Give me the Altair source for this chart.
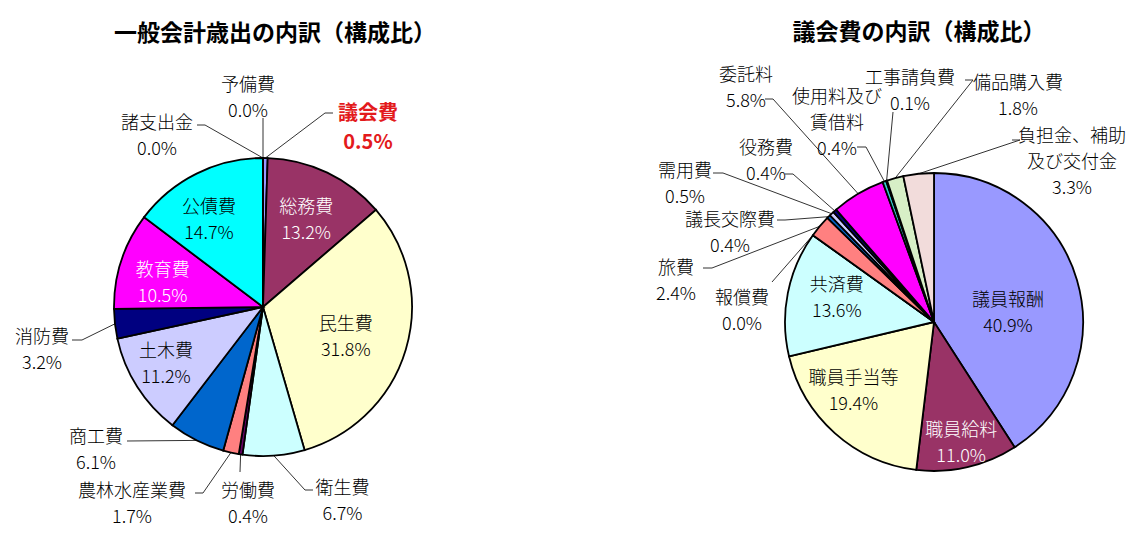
import altair as alt
import pandas as pd

# ---------------- data ----------------
left_title = "一般会計歳出の内訳（構成比）"
left_cats = ["議会費", "総務費", "民生費", "衛生費", "労働費", "農林水産業費", "商工費",
             "土木費", "消防費", "教育費", "公債費", "諸支出金", "予備費"]
left_vals = [0.5, 13.2, 31.8, 6.7, 0.4, 1.7, 6.1, 11.2, 3.2, 10.5, 14.7, 0.0, 0.0]

right_title = "議会費の内訳（構成比）"
right_cats = ["議員報酬", "職員給料", "職員手当等", "共済費", "報償費", "旅費", "議長交際費",
              "需用費", "役務費", "委託料", "使用料及び賃借料", "工事請負費", "備品購入費",
              "負担金、補助及び交付金"]
right_vals = [40.9, 11.0, 19.4, 13.6, 0.0, 2.4, 0.4, 0.5, 0.4, 5.8, 0.4, 0.1, 1.8, 3.3]

# ---------------- styles ----------------
left_colors = ["#9999FF", "#993366", "#FFFFCC", "#CCFFFF", "#660066", "#FF8080", "#0066CC",
               "#CCCCFF", "#000080", "#FF00FF", "#00FFFF", "#800080", "#FFFF00"]
right_colors = ["#9999FF", "#993366", "#FFFFCC", "#CCFFFF", "#660066", "#FF8080", "#0066CC",
                "#CCCCFF", "#000080", "#FF00FF", "#33CCCC", "#99CCFF", "#D7EFC6", "#F2DCDB"]
line_breaks = {"使用料及び賃借料": "使用料及び\n賃借料",
               "負担金、補助及び交付金": "負担金、補助\n及び交付金"}
highlight = {"議会費"}
FONT = "Noto Sans CJK JP"
M = 8  # page margin
LH = 26      # label line height
LH_HL = 29   # highlighted label line height

# ---------------- layout (page px) ----------------
LEFT = dict(cx=263, cy=307, r=149, title=(275, 34))
RIGHT = dict(cx=934, cy=322, r=149, title=(919, 33))

# inside labels: (radius, angle nudge deg, text colour)
left_inside = {"総務費": (100, 0, "white"), "民生費": (87, 1.4, "black"),
               "土木費": (111, 3.4, "black"), "教育費": (104, -3, "white"),
               "公債費": (105, -4.5, "black")}
right_inside = {"議員報酬": (75, 7, "black"), "職員給料": (121, 0, "white"),
                "職員手当等": (104, 9, "black"), "共済費": (101, 4.6, "black")}
# outside labels: (text centre, leader elbow, leader end)
left_outside = {
    "予備費": ((248, 95), (263, 118), (263, 118)),
    "諸支出金": ((157, 133), (205, 125), (197, 125)),
    "議会費": ((368, 124.5), (325, 113), (333, 113)),
    "消防費": ((42, 346.5), (82, 340), (72, 340)),
    "衛生費": ((342.5, 497.5), (305, 490), (313, 490)),
    "労働費": ((248, 500.5), (240, 472), (240, 472)),
    "農林水産業費": ((132, 500.5), (203, 493), (195, 493)),
    "商工費": ((96, 446.5), (127, 441), (127, 441)),
}
right_outside = {
    "報償費": ((742, 308), (772, 282), (772, 282)),
    "旅費": ((676, 277.5), (712, 268), (703, 268)),
    "議長交際費": ((730, 229.5), (785, 220), (777, 220)),
    "需用費": ((685, 180.5), (723, 173), (713, 173)),
    "役務費": ((766, 158), (793, 174), (785, 174)),
    "委託料": ((746, 85), (773, 99), (765, 99)),
    "使用料及び賃借料": ((837, 120), (866, 147), (857, 147)),
    "工事請負費": ((910, 88), (893, 112), (893, 112)),
    "備品購入費": ((1018, 92.5), (973, 80), (965, 80)),
    "負担金、補助及び交付金": ((1072, 158.7), (1020, 140), (1012, 140)),
}


def pie_layers(cats, vals, colors, L, inside, outside):
    rows = []
    for i, (c, v) in enumerate(zip(cats, vals)):
        row = dict(cat=c, v=v, idx=i, name=line_breaks.get(c, c),
                   hl=1 if c in highlight else 0, kind="none",
                   lr=0.0, da=0.0, tc="black", tx=0.0, ty=0.0, bx=0.0, by=0.0, qx=0.0, qy=0.0)
        if c in inside:
            r, da, tc = inside[c]
            row.update(kind="in", lr=r, da=da, tc=tc)
        elif c in outside:
            (tx, ty), (bx, by), (qx, qy) = outside[c]
            row.update(kind="out", tx=tx - M, ty=ty - M, bx=bx - M, by=by - M,
                       qx=qx - M, qy=qy - M)
        rows.append(row)
    df = pd.DataFrame(rows)
    cx, cy, R = L["cx"] - M, L["cy"] - M, L["r"]
    base = alt.Chart(df)

    arcs = base.mark_arc(radius=R, stroke="black", strokeWidth=1.8).encode(
        theta=alt.Theta("v:Q", stack=True, scale=alt.Scale(nice=False)),
        order=alt.Order("idx:Q", sort="ascending"),
        color=alt.Color("cat:N", scale=alt.Scale(domain=cats, range=colors), legend=None),
        x=alt.value(cx), y=alt.value(cy),
    )

    geo = base.transform_joinaggregate(total="sum(v)").transform_window(
        cum="sum(v)", sort=[alt.SortField("idx", order="ascending")], frame=[None, 0]
    ).transform_calculate(
        ang="(datum.cum - datum.v/2) / datum.total * 2 * PI",
        label="datum.name + '\\n' + format(datum.v, '.1f') + '%'",
    ).transform_calculate(
        nl="length(split(datum.label, '\\n'))",
        ex=f"{cx} + {R} * sin(datum.ang)",
        ey=f"{cy} - {R} * cos(datum.ang)",
        lx=f"{cx} + datum.lr * sin(datum.ang + datum.da * PI / 180)",
        ly0=f"{cy} - datum.lr * cos(datum.ang + datum.da * PI / 180)",
    ).transform_calculate(
        lh=f"datum.hl == 1 ? {LH_HL} : {LH}",
    ).transform_calculate(
        ly="datum.ly0 - (datum.nl - 1) * datum.lh / 2",
        tyy="datum.ty - (datum.nl - 1) * datum.lh / 2",
    )

    txt_kw = dict(font=FONT, fontSize=18, fontWeight=300, lineBreak="\n", lineHeight=LH,
                  align="center", baseline="middle", dy=4)
    inside_txt = geo.transform_filter("datum.kind == 'in'").mark_text(**txt_kw).encode(
        x=alt.X("lx:Q", scale=None), y=alt.Y("ly:Q", scale=None),
        text="label:N", color=alt.Color("tc:N", scale=None),
    )
    out_txt = geo.transform_filter("datum.kind == 'out' && datum.hl == 0").mark_text(
        color="black", **txt_kw).encode(
        x=alt.X("tx:Q", scale=None), y=alt.Y("tyy:Q", scale=None), text="label:N",
    )
    hl_kw = dict(txt_kw)
    hl_kw.update(fontSize=20, lineHeight=LH_HL, fontWeight="bold")
    hl_txt = geo.transform_filter("datum.kind == 'out' && datum.hl == 1").mark_text(
        color="#E31A1C", **hl_kw).encode(
        x=alt.X("tx:Q", scale=None), y=alt.Y("tyy:Q", scale=None), text="label:N",
    )
    lead1 = geo.transform_filter("datum.kind == 'out'").mark_rule(
        color="#333333", strokeWidth=1).encode(
        x=alt.X("ex:Q", scale=None), y=alt.Y("ey:Q", scale=None), x2="bx:Q", y2="by:Q",
    )
    lead2 = geo.transform_filter("datum.kind == 'out'").mark_rule(
        color="#333333", strokeWidth=1).encode(
        x=alt.X("bx:Q", scale=None), y=alt.Y("by:Q", scale=None), x2="qx:Q", y2="qy:Q",
    )
    return [lead1, lead2, arcs, inside_txt, out_txt, hl_txt]


titles = pd.DataFrame({
    "t": [left_title, right_title],
    "x": [LEFT["title"][0] - M, RIGHT["title"][0] - M],
    "y": [LEFT["title"][1] - M, RIGHT["title"][1] - M],
})
title_layer = alt.Chart(titles).mark_text(
    font=FONT, fontSize=23, fontWeight="bold", color="black", align="center",
    baseline="middle").encode(
    x=alt.X("x:Q", scale=None), y=alt.Y("y:Q", scale=None), text="t:N")

layers = (pie_layers(left_cats, left_vals, left_colors, LEFT, left_inside, left_outside)
          + pie_layers(right_cats, right_vals, right_colors, RIGHT, right_inside, right_outside)
          + [title_layer])

chart = alt.layer(*layers).resolve_scale(
    color="independent", theta="independent"
).properties(
    width=1122, height=530, autosize="none", padding=0
).configure_view(stroke=None)

chart.save("out.html", embed_options={"renderer": "svg", "actions": False})
